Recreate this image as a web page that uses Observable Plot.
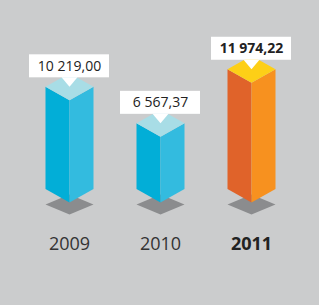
<!DOCTYPE html>
<html>
<head>
<meta charset="utf-8">
<script src="https://cdn.jsdelivr.net/npm/d3@7"></script>
<script src="https://cdn.jsdelivr.net/npm/@observablehq/plot@0.6"></script>
<style>
  html, body { margin: 0; padding: 0; background: #cbcccd; }
  #chart svg { display: block; }
</style>
</head>
<body>
<div id="chart"></div>
<script>
const years = ["2009", "2010", "2011"];
const values = [10219.00, 6567.37, 11974.22];
const highlight = [false, false, true];

const palettes = {
  normal: { left: "#02aed7", right: "#33bbdf", top: "#a8dde6" },
  hot:    { left: "#e0632a", right: "#f7911f", top: "#fdcf17" }
};
const shadowColor = "#8b8c8e";

const fmt = d3.formatLocale({ decimal: ",", thousands: " ", grouping: [3] }).format(",.2f");

// geometry helpers (px converted to scale units)
const kx = 1 / 91;   // x units per px
const ky = 100;      // y units per px
const W = 24 * kx;
const D = 13.5 * ky;

const polys = [];
const boxes = [];
const labels = [];
values.forEach((v, i) => {
  const p = highlight[i] ? palettes.hot : palettes.normal;
  const add = (id, fill, pts) => pts.forEach(([x, y]) => polys.push({ id: id + i, fill, x, y }));
  add("s", shadowColor, [[i - W, -2 * ky], [i, 8 * ky], [i + W, -2 * ky], [i, -12 * ky]]);
  add("l", p.left, [[i - W, v + D], [i, v], [i, 0], [i - W, D]]);
  add("r", p.right, [[i + W, v + D], [i, v], [i, 0], [i + W, D]]);
  add("t", p.top, [[i - W, v + D], [i, v], [i + W, v + D], [i, v + 2 * D]]);
  add("n", "#ffffff", [[i - 8 * kx, v + 23 * ky], [i + 8 * kx, v + 23 * ky], [i, v + 13.5 * ky]]);
  boxes.push({ x1: i - 40 * kx, x2: i + 40 * kx, y1: v + 22.5 * ky, y2: v + 45.5 * ky });
  labels.push({ x: i, y: v + 34 * ky, text: fmt(v), bold: highlight[i], year: years[i] });
});

const order = ["s", "l", "r", "t"];
const polysFor = (k) => polys.filter(d => d.id[0] === k);

const chart = Plot.plot({
  width: 319,
  height: 305,
  margin: 0,
  style: { background: "#cbcccd", fontFamily: "'Open Sans', sans-serif" },
  x: { domain: [0, 2], range: [69, 251], axis: null },
  y: { domain: [-103 * ky, 202 * ky], range: [305, 0], axis: null },
  color: { type: "identity" },
  marks: [
    ...order.map(k => Plot.line(polysFor(k), { x: "x", y: "y", z: "id", fill: "fill", stroke: "none", curve: "linear-closed" })),
    Plot.rect(boxes, { x1: "x1", x2: "x2", y1: "y1", y2: "y2", fill: "#ffffff", inset: 0 }),
    Plot.line(polysFor("n"), { x: "x", y: "y", z: "id", fill: "fill", stroke: "none", curve: "linear-closed" }),
    Plot.text(labels.filter(d => !d.bold), { x: "x", y: "y", text: "text", fontSize: 14, fill: "#222222" }),
    Plot.text(labels.filter(d => d.bold), { x: "x", y: "y", text: "text", fontSize: 14, fontWeight: "bold", fill: "#222222" }),
    Plot.text(labels.filter(d => !d.bold), { x: "x", y: () => -41.5 * ky, text: "year", fontSize: 18, fill: "#333333" }),
    Plot.text(labels.filter(d => d.bold), { x: "x", y: () => -41.5 * ky, text: "year", fontSize: 18, fontWeight: "bold", fill: "#222222" })
  ]
});
document.getElementById("chart").appendChild(chart);
</script>
</body>
</html>
